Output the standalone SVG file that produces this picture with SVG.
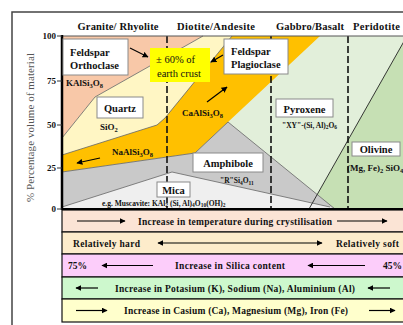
<svg xmlns="http://www.w3.org/2000/svg" width="403" height="325" viewBox="0 0 403 325">
<defs>
<marker id="ah" viewBox="0 0 10 10" refX="9" refY="5" markerWidth="5" markerHeight="5" orient="auto-start-reverse"><path d="M0,0 L10,5 L0,10 z" fill="#000"/></marker>
</defs>
<style>
text{font-family:"Liberation Serif","Times New Roman","DejaVu Serif",serif;font-weight:bold;fill:#111}
.box{fill:#fff;stroke:#8a8a8a;stroke-width:1}
.lbl{font-size:10.5px}
.f{font-size:9px}
.sm{font-size:7.5px}
.row{font-size:9.5px}
.hd{font-size:10.5px}
.arr{stroke:#000;stroke-width:1.2;fill:none;marker-end:url(#ah)}
.arr2{stroke:#000;stroke-width:1.2;fill:none;marker-end:url(#ah);marker-start:url(#ah)}
.dash{stroke:#111;stroke-width:1.6;stroke-dasharray:7 3;fill:none}
.bd{stroke:#666;stroke-width:0.8;fill:none}
.rowr{stroke:#111;stroke-width:1.2}
</style>
<rect width="403" height="325" fill="#fff"/>
<path d="M12,325 V12 H403" fill="none" stroke="#444" stroke-width="1.5"/>

<g id="headers">
<text class="hd" x="118" y="30" text-anchor="middle" textLength="81">Granite/ Rhyolite</text>
<text class="hd" x="216" y="30" text-anchor="middle" textLength="78">Diotite/Andesite</text>
<text class="hd" x="310" y="30" text-anchor="middle" textLength="68">Gabbro/Basalt</text>
<text class="hd" x="353" y="30" textLength="47">Peridotite</text>
</g>

<g id="regions">
<rect x="62" y="36" width="341" height="173" fill="#e2efda"/>
<polygon points="407,36 420,36 420,209 309,209" fill="#c6e0b4"/>
<polygon points="62,36 203,36 95,97 62,138" fill="#f8c8a8"/>
<polygon points="62,138 95,97 203,36 232,36 165,118 157,125 62,155" fill="#fff6c4"/>
<polygon points="232,36 320,36 228,122 195,153 62,172 62,155 157,125 165,118" fill="#ffc000"/>
<polygon points="62,172 195,153 228,122 335,209 62,209" fill="#c9c9c9"/>
<polygon points="62,209 62,207 172,172 330,207 335,209" fill="#efefef"/>
<path class="bd" d="M62,138 L95,97 L203,36"/>
<path class="bd" d="M62,155 L157,125 L165,118 L232,36"/>
<path class="bd" d="M62,172 L195,153 L228,122 L335,209"/>
<path class="bd" d="M62,207 L172,172 L330,207"/>
<path d="M407,36 L309,209" stroke="#222" stroke-width="0.9" fill="none"/>
</g>

<g id="connectors">
<path class="dash" d="M167,36 V209"/>
<path class="dash" d="M271,36 V209"/>
<path class="dash" d="M348,36 V209"/>
<path class="arr" d="M130,48 L148,57"/>
<path class="arr" d="M223,55 L211,62"/>
<path class="arr" d="M207,102 L227,87"/>
<path class="arr" d="M100,158 L77,163"/>
</g>

<g id="axes">
<path d="M62,36 H403" stroke="#555" stroke-width="1"/>
<path d="M62,35 V210" stroke="#000" stroke-width="2.5"/>
<path d="M57,36 H62 M57,81 H62 M57,125 H62 M57,168 H62 M57,209 H62" stroke="#333" stroke-width="1"/>
<text class="f" x="56" y="39" text-anchor="end">100</text>
<text class="f" x="56" y="84" text-anchor="end">75</text>
<text class="f" x="56" y="128" text-anchor="end">50</text>
<text class="f" x="56" y="171" text-anchor="end">25</text>
<text class="f" x="56" y="212" text-anchor="end">0</text>
<text x="34" y="127.5" transform="rotate(-90 34 127.5)" text-anchor="middle" style="font-weight:normal;font-size:11px;fill:#555" textLength="149">% Percentage volume of material</text>
</g>

<g id="orthoclase">
<rect class="box" x="63" y="39" width="65" height="36"/>
<text class="lbl" x="70" y="56">Feldspar</text>
<text class="lbl" x="70" y="69">Orthoclase</text>
<text class="f" x="66" y="86">KAlSi<tspan dy="2" font-size="6.5">3</tspan><tspan dy="-2">O</tspan><tspan dy="2" font-size="6.5">8</tspan></text>
</g>

<g id="crust">
<rect x="150" y="48" width="60" height="34" fill="#ffff00"/>
<text x="156" y="63" style="font-weight:normal;font-size:10.5px">± 60% of</text>
<text x="157" y="77" style="font-weight:normal;font-size:10.5px">earth crust</text>
</g>

<g id="plagioclase">
<rect class="box" x="224" y="39" width="64" height="35"/>
<text class="lbl" x="231" y="55">Feldspar</text>
<text class="lbl" x="231" y="68">Plagioclase</text>
<text class="f" x="182" y="116">CaAlSi<tspan dy="2" font-size="6.5">3</tspan><tspan dy="-2">O</tspan><tspan dy="2" font-size="6.5">8</tspan></text>
<text class="f" x="112" y="155">NaAlSi<tspan dy="2" font-size="6.5">3</tspan><tspan dy="-2">O</tspan><tspan dy="2" font-size="6.5">8</tspan></text>
</g>

<g id="quartz">
<rect class="box" x="97" y="97" width="46" height="21"/>
<text class="lbl" x="120" y="112" text-anchor="middle">Quartz</text>
<text class="f" x="100" y="130">SiO<tspan dy="2" font-size="6.5">2</tspan></text>
</g>

<g id="amphibole">
<rect class="box" x="193" y="153" width="70" height="19"/>
<text class="lbl" x="228" y="166.5" text-anchor="middle">Amphibole</text>
<text class="sm" x="220" y="183">"R"Si<tspan dy="1.5" font-size="5.5">4</tspan><tspan dy="-1.5">O</tspan><tspan dy="1.5" font-size="5.5">11</tspan></text>
</g>

<g id="mica">
<rect class="box" x="157" y="182" width="33" height="15"/>
<text class="lbl" x="173.5" y="193.5" text-anchor="middle">Mica</text>
<text class="sm" x="102" y="205.5">e.g. Muscavite: KAl<tspan dy="1.5" font-size="5.5">2</tspan><tspan dy="-1.5"> (Si, Al)</tspan><tspan dy="1.5" font-size="5.5">4</tspan><tspan dy="-1.5">O</tspan><tspan dy="1.5" font-size="5.5">10</tspan><tspan dy="-1.5">(OH)</tspan><tspan dy="1.5" font-size="5.5">2</tspan></text>
</g>

<g id="pyroxene">
<rect class="box" x="276" y="99" width="57" height="18"/>
<text class="lbl" x="304.5" y="112.5" text-anchor="middle">Pyroxene</text>
<text class="sm" x="282" y="127.5">"XY"-(Si, Al)<tspan dy="1.5" font-size="5.5">2</tspan><tspan dy="-1.5">O</tspan><tspan dy="1.5" font-size="5.5">6</tspan></text>
</g>

<g id="olivine">
<rect class="box" x="352" y="142" width="48" height="14"/>
<text class="lbl" x="376" y="153" text-anchor="middle">Olivine</text>
<text class="f" x="347" y="171">(Mg, Fe)<tspan dy="2" font-size="6.5">2</tspan><tspan dy="-2"> SiO</tspan><tspan dy="2" font-size="6.5">4</tspan></text>
</g>

<g id="table">
<rect class="rowr" x="62" y="210" width="345" height="22" fill="#fbe4d5"/>
<rect class="rowr" x="62" y="232" width="345" height="22" fill="#fdeccb"/>
<rect class="rowr" x="62" y="254" width="345" height="23" fill="#fccdfa"/>
<rect class="rowr" x="62" y="277" width="345" height="22" fill="#cdf8cd"/>
<rect class="rowr" x="62" y="299" width="345" height="23" fill="#ffffcc"/>
<path d="M62,209 H403" stroke="#000" stroke-width="2"/>
<path class="arr" d="M77,221 H125"/>
<text class="row" x="235" y="224.5" text-anchor="middle" textLength="194">Increase in temperature during crystilisation</text>
<path class="arr" d="M337,221 H387"/>
<text class="row" x="73" y="246.5" textLength="67">Relatively hard</text>
<path class="arr2" d="M158,243 H322"/>
<text class="row" x="336" y="246.5" textLength="63">Relatively soft</text>
<text class="row" x="68" y="269">75%</text>
<path class="arr" d="M153,265.5 H102"/>
<text class="row" x="230" y="269" text-anchor="middle" textLength="110">Increase in Silica content</text>
<path class="arr" d="M365,265.5 H308"/>
<text class="row" x="383" y="269">45%</text>
<path class="arr" d="M98,288 H76"/>
<text class="row" x="235" y="291.5" text-anchor="middle" textLength="240">Increase in Potasium (K), Sodium (Na), Aluminium (Al)</text>
<path class="arr" d="M390,288 H368"/>
<path class="arr" d="M76,310.5 H107"/>
<text class="row" x="236" y="314" text-anchor="middle" textLength="224">Increase in Casium (Ca), Magnesium (Mg), Iron (Fe)</text>
<path class="arr" d="M369,310.5 H395"/>
</g>
</svg>
